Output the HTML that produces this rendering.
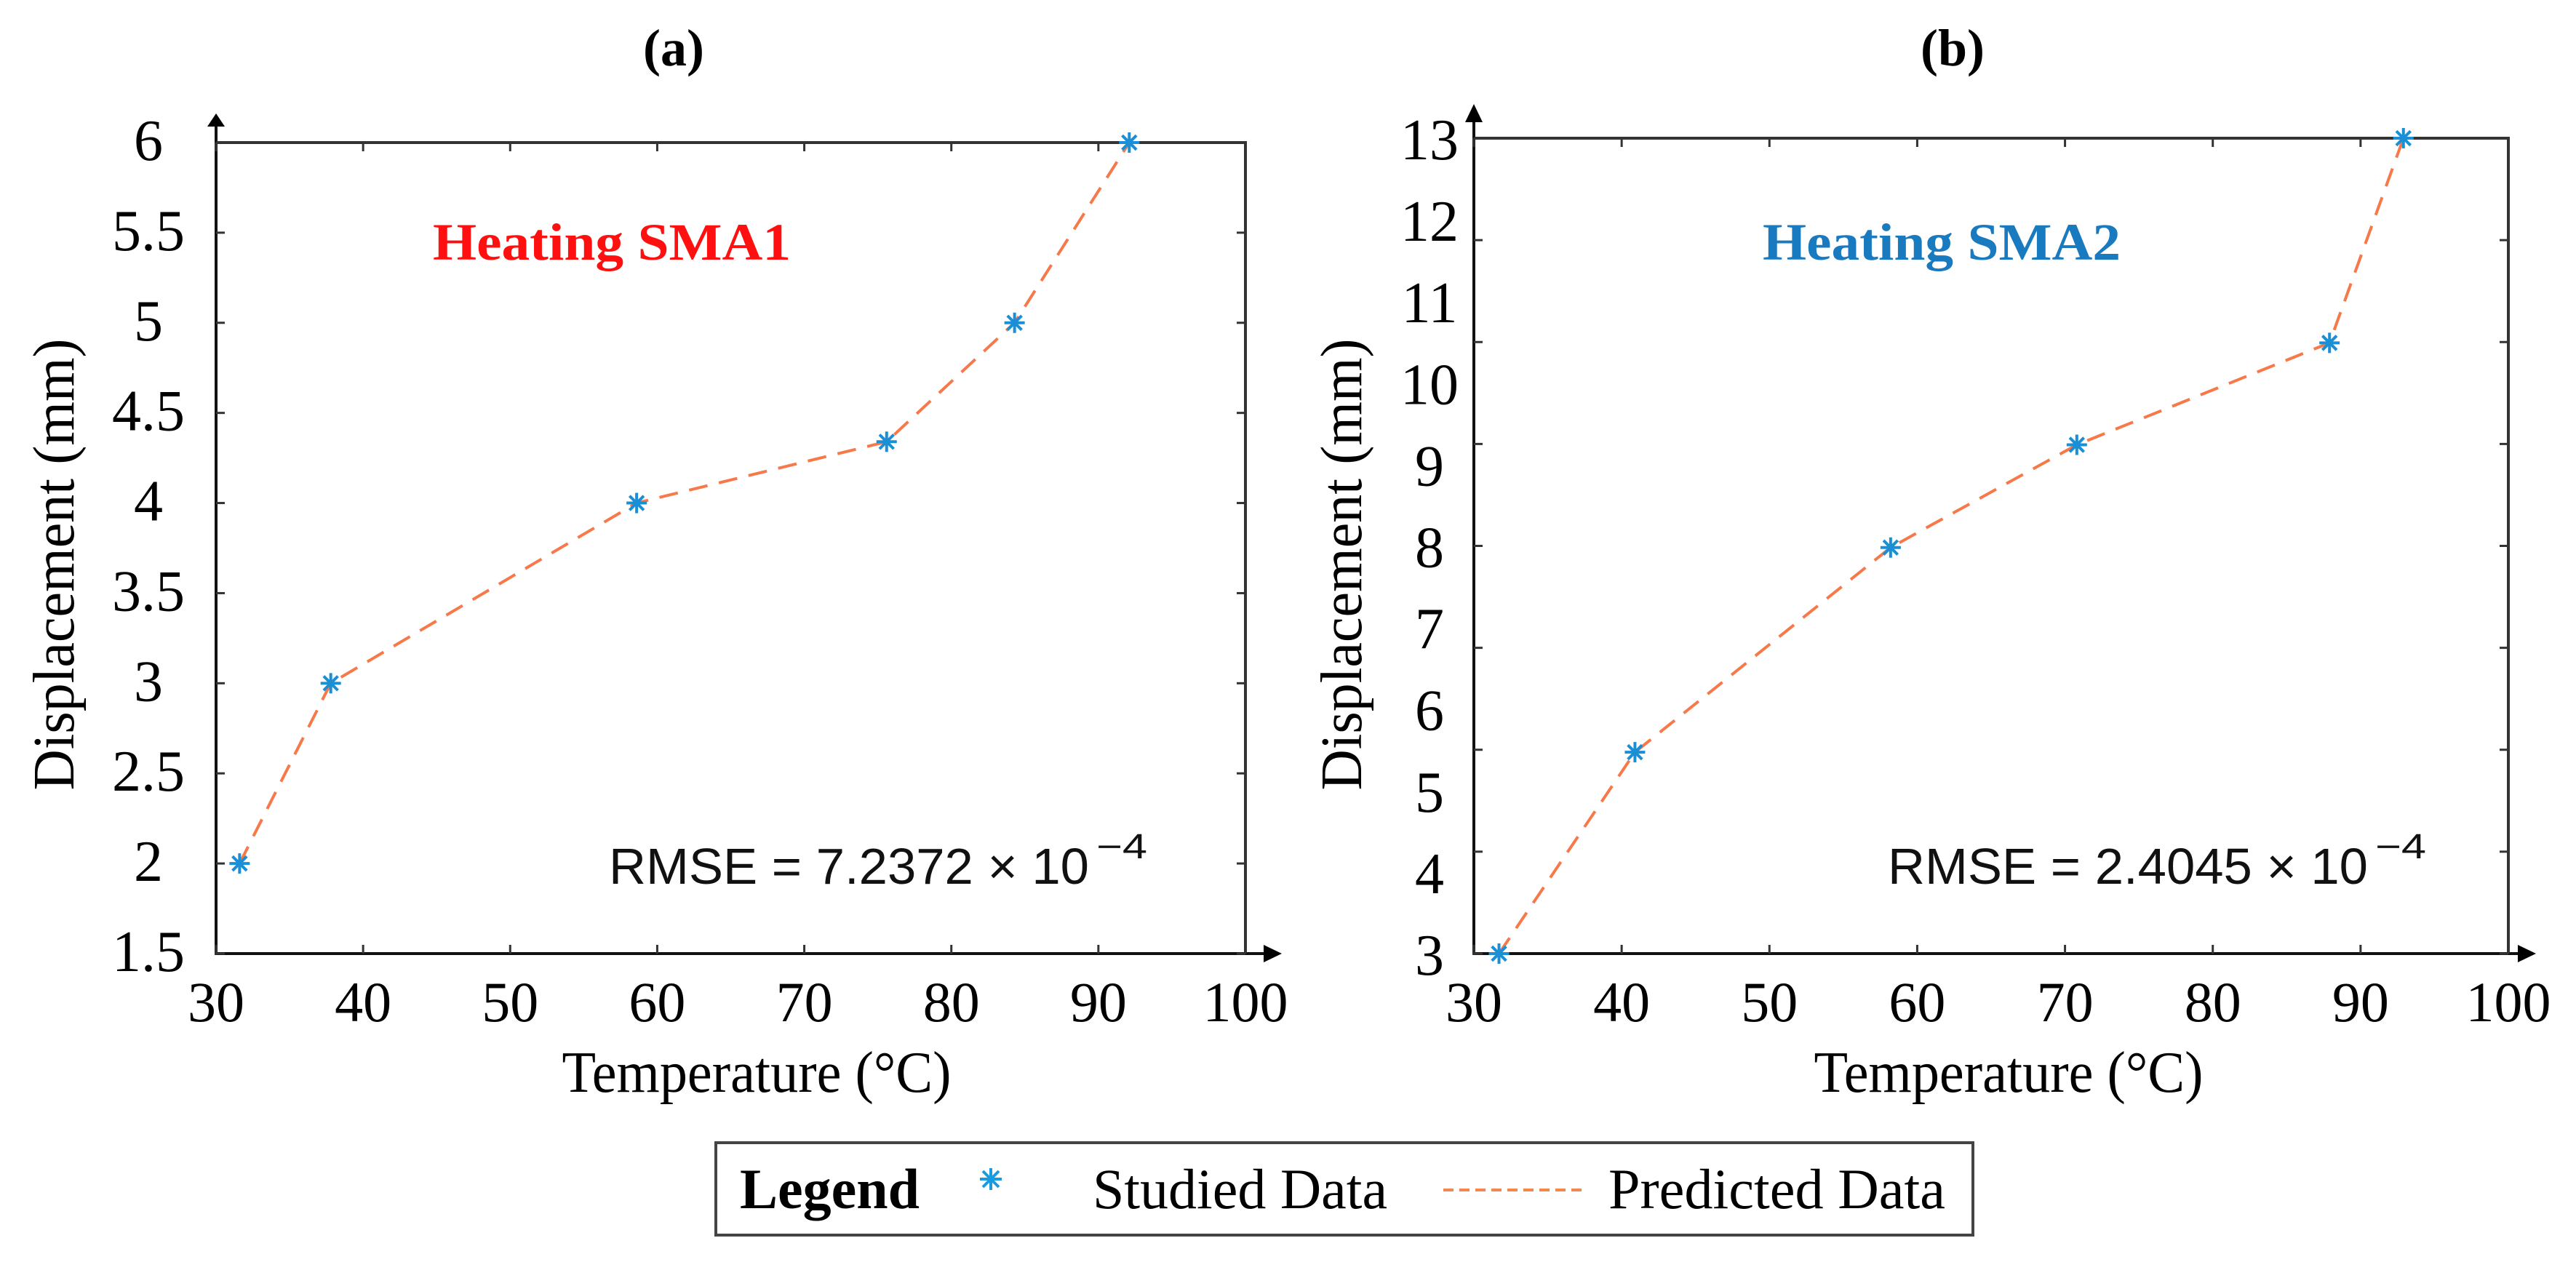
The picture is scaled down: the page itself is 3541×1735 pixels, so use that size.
<!DOCTYPE html>
<html><head><meta charset="utf-8"><style>
html,body{margin:0;padding:0;background:#fff;}
svg{display:block;}
</style></head><body>
<svg id="fig" width="3541" height="1735" viewBox="0 0 3541 1735" xmlns="http://www.w3.org/2000/svg">
<g id="root"></g>
</svg>
<script>
// ---- data ----
const xTicks = [30, 40, 50, 60, 70, 80, 90, 100];
const tempA = [31.6, 37.8, 58.6, 75.6, 84.3, 92.1];
const dispA = [2, 3, 4, 4.34, 5, 6];
const yTicksA = [1.5, 2, 2.5, 3, 3.5, 4, 4.5, 5, 5.5, 6];
const tempB = [31.7, 40.9, 58.2, 70.8, 87.9, 92.9];
const dispB = [3, 5.47, 7.98, 9.24, 10.49, 13];
const yTicksB = [3, 4, 5, 6, 7, 8, 9, 10, 11, 12, 13];
const yTickMarksB = [3, 4.25, 5.5, 6.75, 8, 9.25, 10.5, 11.75, 13];

const NS = 'http://www.w3.org/2000/svg';
const root = document.getElementById('root');
function mk(tag, attrs, parent, text) {
  const e = document.createElementNS(NS, tag);
  for (const k in attrs) e.setAttribute(k, attrs[k]);
  if (text !== undefined) e.textContent = text;
  (parent || root).appendChild(e);
  return e;
}
const SERIF = '"Liberation Serif", serif';
const SANS = '"Liberation Sans", sans-serif';

function panel(cfg) {
  const g = mk('g', {});
  
  
  const L = cfg.left, R = cfg.right, T = cfg.top, B = cfg.bottom;
  const xs = v => L + (v - 30) / 70 * (R - L);
  const ys = v => B - (v - cfg.ymin) / (cfg.ymax - cfg.ymin) * (B - T);

  const frame = mk('rect', {x: L, y: T, width: R - L, height: B - T, fill: 'none', stroke: '#333', 'stroke-width': 4}, g);
  
  
  const ya = mk('line', {x1: L, y1: B, x2: L, y2: T - 22, stroke: '#111', 'stroke-width': 4}, g);
  
  
  const yah = mk('polygon', {points: `${L-12},${T-22} ${L+12},${T-22} ${L},${cfg.arrowTop}`, fill: '#000'}, g);
  
  
  const xa = mk('line', {x1: L, y1: B, x2: cfg.arrowRight - 25, y2: B, stroke: '#111', 'stroke-width': 4}, g);
  
  
  const xah = mk('polygon', {points: `${cfg.arrowRight-25},${B-12} ${cfg.arrowRight-25},${B+12} ${cfg.arrowRight},${B}`, fill: '#000'}, g);
  
  

  xTicks.forEach(v => {
    const x = xs(v);
    mk('line', {x1: x, y1: B, x2: x, y2: B - 12, stroke: '#333', 'stroke-width': 3}, g);
    mk('line', {x1: x, y1: T, x2: x, y2: T + 12, stroke: '#333', 'stroke-width': 3}, g);
    const t = mk('text', {x: x, y: B + 93, 'text-anchor': 'middle', 'font-family': SERIF, 'font-size': 78, fill: '#000'}, g, String(v));
    
    
  });
  cfg.tickMarks.forEach(v => {
    const y = ys(v);
    mk('line', {x1: L, y1: y, x2: L + 12, y2: y, stroke: '#333', 'stroke-width': 3}, g);
    mk('line', {x1: R, y1: y, x2: R - 12, y2: y, stroke: '#333', 'stroke-width': 3}, g);
  });
  cfg.yLabels.forEach(v => {
    const t = mk('text', {x: cfg.labelX, y: ys(v) + cfg.labelDy, 'text-anchor': 'middle', 'font-family': SERIF, 'font-size': 80, fill: '#000'}, g, String(v));
    
    
  });
  const pt = mk('text', {x: cfg.titleX, y: 90, 'text-anchor': 'middle', 'font-family': SERIF, 'font-size': 72, 'font-weight': 'bold', fill: '#000'}, g, cfg.title);
  
  
  const xt = mk('text', {x: cfg.xTitleX, y: 1501, 'text-anchor': 'middle', 'font-family': SERIF, 'font-size': 80, fill: '#000', textLength: 535, lengthAdjust: 'spacingAndGlyphs'}, g, 'Temperature (°C)');
  
  
  const yt = mk('text', {x: 0, y: 0, 'text-anchor': 'middle', 'font-family': SERIF, 'font-size': 80, fill: '#000', textLength: 621, lengthAdjust: 'spacingAndGlyphs', transform: `translate(${cfg.yTitleX},776) rotate(-90)`}, g, 'Displacement (mm)');
  
  
  const ht = mk('text', {x: cfg.headX, y: 357, 'text-anchor': 'middle', 'font-family': SERIF, 'font-size': 72, 'font-weight': 'bold', fill: cfg.headColor, textLength: 492, lengthAdjust: 'spacingAndGlyphs'}, g, cfg.head);
  
  
  const rm = mk('text', {x: cfg.rmseX, y: 1215, 'font-family': SANS, 'font-size': 70, fill: '#111', textLength: 660, lengthAdjust: 'spacingAndGlyphs'}, g, cfg.rmse + ' × 10');
  
  
  const sup = mk('text', {x: cfg.rmseX + 670, y: 1180, 'font-family': SANS, 'font-size': 48, fill: '#111', textLength: 70, lengthAdjust: 'spacingAndGlyphs'}, g, '−4');
  
  

  const pts = cfg.tx.map((t, i) => `${xs(t)},${ys(cfg.dy[i])}`).join(' ');
  const pl = mk('polyline', {points: pts, fill: 'none', stroke: '#f7794a', 'stroke-width': 4, 'stroke-dasharray': '26 16'}, g);
  
  
  cfg.tx.forEach((t, i) => {
    const cx = xs(t), cy = ys(cfg.dy[i]);
    const m = mk('g', {stroke: '#1a8fd6', 'stroke-width': 4}, g);
    
    
    const r = 14;
    mk('line', {x1: cx, y1: cy - r, x2: cx, y2: cy + r}, m);
    mk('line', {x1: cx - r, y1: cy, x2: cx + r, y2: cy}, m);
    mk('line', {x1: cx - r*0.7, y1: cy - r*0.7, x2: cx + r*0.7, y2: cy + r*0.7}, m);
    mk('line', {x1: cx - r*0.7, y1: cy + r*0.7, x2: cx + r*0.7, y2: cy - r*0.7}, m);
  });
}

panel({name: 'panel-a', left: 297, right: 1712, top: 196, bottom: 1311, ymin: 1.5, ymax: 6,
  arrowTop: 156, arrowRight: 1762, tickMarks: yTicksA, yLabels: yTicksA, labelX: 204, labelDy: 24,
  title: '(a)', titleX: 926, xTitleX: 1040, yTitleX: 101, headX: 841, head: 'Heating SMA1', headColor: '#ff1010',
  rmseX: 837, rmse: 'RMSE = 7.2372', tx: tempA, dy: dispA});
panel({name: 'panel-b', left: 2026, right: 3448, top: 190, bottom: 1311, ymin: 3, ymax: 13,
  arrowTop: 143, arrowRight: 3486, tickMarks: yTickMarksB, yLabels: yTicksB, labelX: 1965, labelDy: 29,
  title: '(b)', titleX: 2684, xTitleX: 2761, yTitleX: 1871, headX: 2669, head: 'Heating SMA2', headColor: '#1a7abf',
  rmseX: 2595, rmse: 'RMSE = 2.4045', tx: tempB, dy: dispB});

const lg = mk('g', {});


mk('rect', {x: 984, y: 1571, width: 1728, height: 127, fill: '#fff', stroke: '#444', 'stroke-width': 4}, lg);
const lt = mk('text', {x: 1017, y: 1661, 'font-family': SERIF, 'font-size': 78, 'font-weight': 'bold', fill: '#000'}, lg, 'Legend');


const ls = mk('g', {stroke: '#1a9be0', 'stroke-width': 4}, lg);


[[0,-15,0,15],[-15,0,15,0],[-11,-11,11,11],[-11,11,11,-11]].forEach(d => mk('line', {x1: 1362+d[0], y1: 1621+d[1], x2: 1362+d[2], y2: 1621+d[3]}, ls));
const l1 = mk('text', {x: 1502, y: 1661, 'font-family': SERIF, 'font-size': 78, fill: '#000'}, lg, 'Studied Data');


const ll = mk('line', {x1: 1984, y1: 1636, x2: 2181, y2: 1636, stroke: '#f7864e', 'stroke-width': 4, 'stroke-dasharray': '14 8'}, lg);


const l2 = mk('text', {x: 2211, y: 1661, 'font-family': SERIF, 'font-size': 78, fill: '#000', textLength: 463, lengthAdjust: 'spacingAndGlyphs'}, lg, 'Predicted Data');


</script>
</body></html>
